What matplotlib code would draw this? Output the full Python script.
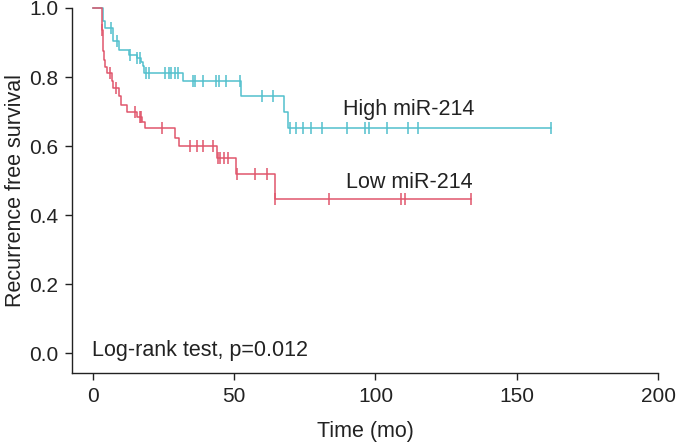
import matplotlib
matplotlib.use("Agg")
import matplotlib.pyplot as plt
import numpy as np

plt.rcParams['font.family'] = ['Liberation Sans', 'DejaVu Sans']

# Kaplan-Meier steps (time in months, survival after the event)
high_times = [0, 3.4, 4.2, 7.2, 9.3, 12.9, 15.5, 17.0, 17.8, 18.2, 32.0, 52.4, 67.7, 68.9]
high_surv = [1.0, 0.961, 0.941, 0.903, 0.877, 0.864, 0.855, 0.845, 0.831, 0.812, 0.790, 0.746, 0.700, 0.652]
high_censor = [6.3, 8.4, 13.1, 15.7, 16.6, 18.8, 19.9, 25.5, 27.0, 27.8, 29.0, 30.2,
               35.5, 36.2, 38.8, 43.5, 44.7, 47.1, 52.2, 59.7, 63.8, 69.7, 72.0, 74.4,
               77.0, 80.9, 89.8, 96.3, 97.8, 103.9, 111.6, 115.1, 162.0]

low_times = [0, 3.1, 3.4, 3.9, 4.2, 4.8, 6.8, 7.2, 9.3, 10.1, 11.9, 15.5, 17.2, 18.4,
             29.0, 30.5, 43.8, 50.6, 64.4]
low_surv = [1.0, 0.936, 0.874, 0.850, 0.830, 0.813, 0.790, 0.768, 0.744, 0.720, 0.700,
            0.684, 0.670, 0.652, 0.623, 0.601, 0.566, 0.520, 0.447]
low_censor = [3.2, 6.0, 8.1, 14.9, 16.6, 17.0, 24.3, 34.3, 36.7, 39.0, 42.5, 44.2, 44.9,
              46.4, 47.9, 50.9, 57.3, 61.5, 64.6, 83.6, 109.0, 110.4, 133.8]

cyan = '#52C0CD'
red = '#E0566C'


def draw_km(ax, times, surv, censor, color):
    t = list(times) + [max(censor)]
    s = list(surv) + [surv[-1]]
    ax.step(t, s, where='post', color=color, lw=1.1, clip_on=False)
    idx = np.searchsorted(times, censor, side='right') - 1
    cy = np.array(surv)[idx]
    ax.plot(censor, cy, '|', color=color, ms=8, mew=1.1, clip_on=False)


fig = plt.figure(figsize=(6.77, 4.46), dpi=100)
ax = fig.add_axes([0.1064, 0.1637, 0.8656, 0.8184])

draw_km(ax, high_times, high_surv, high_censor, cyan)
draw_km(ax, low_times, low_surv, low_censor, red)

ax.set_xlim(-7.4, 200)
ax.set_ylim(-0.057, 1.0)
ax.set_xticks([0, 50, 100, 150, 200])
ax.set_yticks([0.0, 0.2, 0.4, 0.6, 0.8, 1.0])
ax.set_yticklabels(['0.0', '0.2', '0.4', '0.6', '0.8', '1.0'])

for side in ['top', 'right']:
    ax.spines[side].set_visible(False)
for side in ['left', 'bottom']:
    ax.spines[side].set_linewidth(1.0)
    ax.spines[side].set_color('#222222')
ax.tick_params(direction='out', length=5, width=1.0, labelsize=15, pad=5, colors='#222222')

ax.set_xlabel('Time (mo)', fontsize=15.5, labelpad=11, color='#222222')
ax.set_ylabel('Recurrence free survival', fontsize=15.5, labelpad=2, color='#222222')

ax.text(88.5, 0.705, 'High miR-214', fontsize=15.5, va='center', ha='left', color='#222222')
ax.text(89.5, 0.494, 'Low miR-214', fontsize=15.5, va='center', ha='left', color='#222222')
ax.text(-0.3, -0.008, 'Log-rank test, p=0.012', fontsize=15.5, va='baseline', ha='left',
        color='#222222')

fig.savefig('out.png', dpi=100)
